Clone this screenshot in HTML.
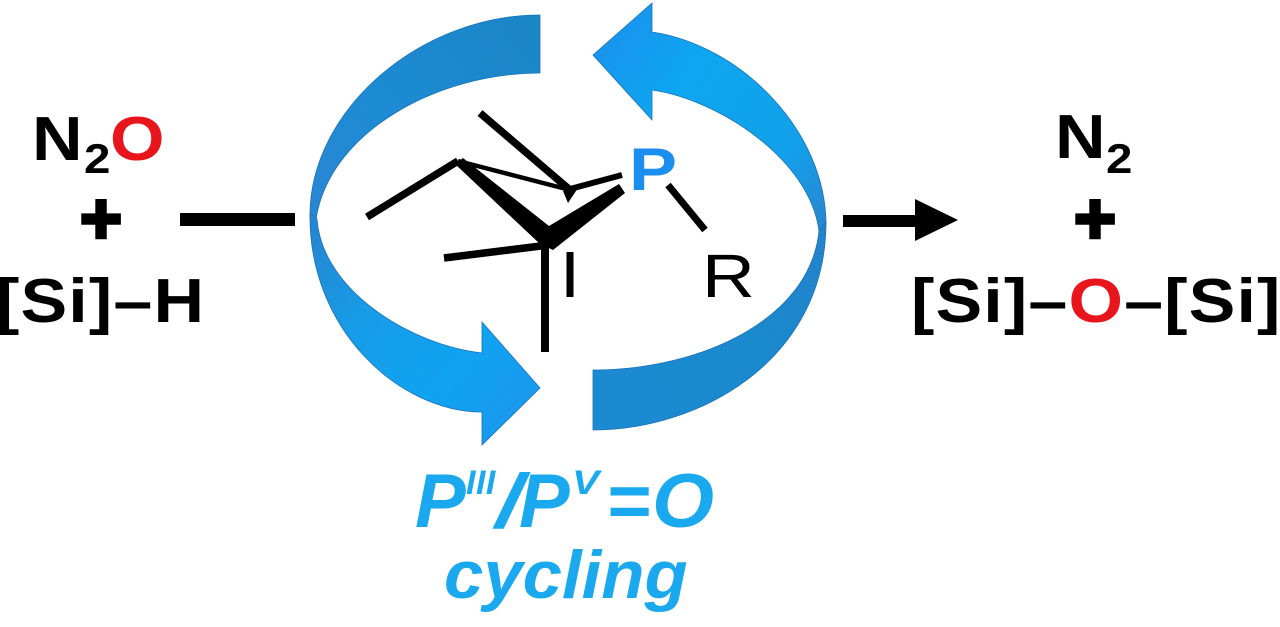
<!DOCTYPE html>
<html>
<head>
<meta charset="utf-8">
<style>
  html,body{margin:0;padding:0;background:#fff;}
  body{width:1280px;height:627px;overflow:hidden;}
  svg{display:block;}
  text{font-family:"Liberation Sans",Arial,sans-serif;}
</style>
</head>
<body>
<svg width="1280" height="627" viewBox="0 0 1280 627" xmlns="http://www.w3.org/2000/svg">
  <defs>
    <linearGradient id="gUL" gradientUnits="userSpaceOnUse" x1="540" y1="40" x2="310" y2="215">
      <stop offset="0" stop-color="#1a86c6"/>
      <stop offset="0.6" stop-color="#1d8bd4"/>
      <stop offset="1" stop-color="#2a86d2"/>
    </linearGradient>
    <linearGradient id="gLL" gradientUnits="userSpaceOnUse" x1="312" y1="215" x2="540" y2="400">
      <stop offset="0" stop-color="#2784cf"/>
      <stop offset="0.35" stop-color="#179ce8"/>
      <stop offset="0.7" stop-color="#10a3f0"/>
      <stop offset="1" stop-color="#1a98ee"/>
    </linearGradient>
    <linearGradient id="gUR" gradientUnits="userSpaceOnUse" x1="593" y1="55" x2="824" y2="228">
      <stop offset="0" stop-color="#1894ee"/>
      <stop offset="0.3" stop-color="#0ea6f0"/>
      <stop offset="0.75" stop-color="#12a0ea"/>
      <stop offset="1" stop-color="#2a86cf"/>
    </linearGradient>
    <linearGradient id="gLR" gradientUnits="userSpaceOnUse" x1="824" y1="225" x2="593" y2="410">
      <stop offset="0" stop-color="#2582cb"/>
      <stop offset="0.4" stop-color="#1a89cd"/>
      <stop offset="1" stop-color="#1b8ad1"/>
    </linearGradient>
  </defs>

  <!-- cycle arrows -->
  <path d="M540,15 C420,15 310,110 310,215 L316,219 C330,130 440,73 540,73 Z" fill="url(#gUL)" stroke="#1a72b8" stroke-width="0.8"/>
  <path d="M310,213 C308,330 400,412 482,412 L482,445 L540,388 L482,322 L482,353 C410,345 322,290 317,219 Z" fill="url(#gLL)" stroke="#1a72b8" stroke-width="0.8"/>
  <path d="M652,32 C740,45 826,130 826,225 L819,231 C810,160 720,100 652,90 L652,120 L593,55 L652,3 Z" fill="url(#gUR)" stroke="#1a72b8" stroke-width="0.8"/>
  <path d="M826,222 C826,360 700,430 593,430 L593,370 C700,370 810,320 819,231 Z" fill="url(#gLR)" stroke="#1a72b8" stroke-width="0.8"/>

  <!-- reaction line / arrow -->
  <rect x="180" y="213" width="115" height="13" fill="#000"/>
  <rect x="843" y="215" width="75" height="12" fill="#000"/>
  <polygon points="915,199 958,220 915,241" fill="#000"/>

  <!-- molecule -->
  <g stroke="#000" stroke-linecap="butt" fill="none">
    <line x1="480" y1="113" x2="570" y2="190" stroke-width="7.5"/>
    <line x1="367" y1="217" x2="458" y2="161" stroke-width="7.5"/>
    <line x1="458" y1="161" x2="570" y2="190" stroke-width="4.5"/>
    <line x1="570" y1="189" x2="622" y2="175" stroke-width="6"/>
    <line x1="444" y1="258" x2="541" y2="246" stroke-width="7.5"/>
    <line x1="545" y1="244" x2="545" y2="352" stroke-width="8"/>
    <line x1="570" y1="252" x2="570" y2="297" stroke-width="7"/>
    <line x1="668" y1="185" x2="705" y2="230" stroke-width="7"/>
  </g>
  <polygon points="563,191 578,188 568,203" fill="#000"/>
  <polygon points="455,164 463,158 549,226 619,184 625,193 553,250 540,244" fill="#000"/>

  <text transform="translate(629,190) scale(1.2,1)" font-size="60" font-weight="bold" fill="#1b8fef">P</text>
  <text transform="translate(702,297) scale(1.2,1)" font-size="61" fill="#000">R</text>

  <!-- left reactants -->
  <text transform="translate(32,160) scale(1.13,1)" font-size="62" font-weight="bold" fill="#000">N</text>
  <text transform="translate(84,173) scale(1.13,1)" font-size="42" font-weight="bold" fill="#000">2</text>
  <text transform="translate(110,160) scale(1.13,1)" font-size="62" font-weight="bold" fill="#e8161c">O</text>
  <text x="101" y="243" text-anchor="middle" font-size="72" font-weight="bold" fill="#000" stroke="#000" stroke-width="3.5">+</text>
  <text transform="translate(-4,322) scale(1.13,1)" font-size="62" font-weight="bold" fill="#000" letter-spacing="1">[Si]–H</text>

  <!-- right products -->
  <text transform="translate(1055,158) scale(1.13,1)" font-size="62" font-weight="bold" fill="#000">N</text>
  <text transform="translate(1106,173) scale(1.13,1)" font-size="42" font-weight="bold" fill="#000">2</text>
  <text x="1095" y="243" text-anchor="middle" font-size="72" font-weight="bold" fill="#000" stroke="#000" stroke-width="3.5">+</text>
  <text transform="translate(911,322) scale(1.13,1)" font-size="62" font-weight="bold" fill="#000" letter-spacing="1">[Si]–<tspan fill="#e8161c">O</tspan>–[Si]</text>

  <!-- caption -->
  <g font-weight="bold" font-style="italic" fill="#1aa9ef">
    <text x="415" y="527" font-size="76">P</text>
    <text x="466" y="494" font-size="34" letter-spacing="0.5">III</text>
    <text transform="translate(496,527) scale(1.25,1)" font-size="76">/</text>
    <text x="519" y="527" font-size="76">P</text>
    <text transform="translate(572,494) scale(1.2,1)" font-size="34">V</text>
    <text x="606" y="527" font-size="76">=</text>
    <text transform="translate(652,527) scale(1.05,1)" font-size="76">O</text>
    <text transform="translate(444,598) scale(1.04,1)" font-size="68">cycling</text>
  </g>
</svg>
</body>
</html>
